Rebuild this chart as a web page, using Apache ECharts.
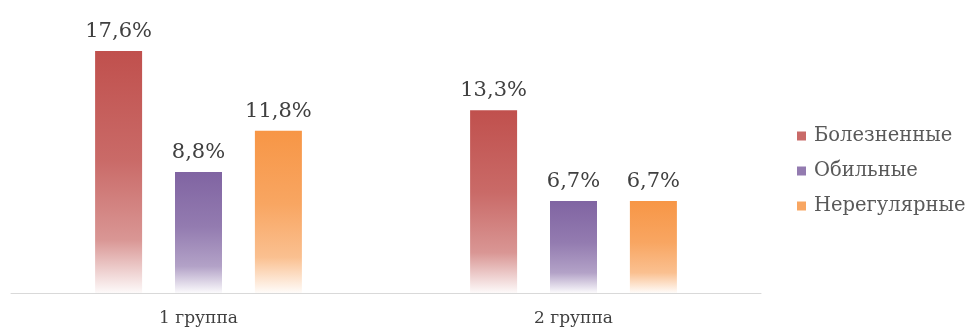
<!DOCTYPE html>
<html>
<head>
<meta charset="utf-8">
<script src="https://cdn.jsdelivr.net/npm/echarts@6/dist/echarts.min.js"></script>
<style>
html,body{margin:0;padding:0;background:#fff;}
#chart{width:967px;height:334px;}
</style>
</head>
<body>
<div id="chart"></div>
<script>
const categories = ['1 группа', '2 группа'];
const seriesNames = ['Болезненные', 'Обильные', 'Нерегулярные'];
const painful = [17.6, 13.3];
const heavy = [8.8, 6.7];
const irregular = [11.8, 6.7];
const seriesValues = [painful, heavy, irregular];
const baseColors = ['192,80,77', '128,100,162', '247,150,70'];

const FONT = 'DejaVu Serif';

function grad(rgb) {
  return new echarts.graphic.LinearGradient(0, 0, 0, 1, [
    { offset: 0, color: 'rgba(' + rgb + ',1)' },
    { offset: 0.45, color: 'rgba(' + rgb + ',0.85)' },
    { offset: 0.78, color: 'rgba(' + rgb + ',0.6)' },
    { offset: 1, color: 'rgba(' + rgb + ',0.03)' }
  ]);
}

const chart = echarts.init(document.getElementById('chart'));
chart.setOption({
  animation: false,
  backgroundColor: '#ffffff',
  grid: { left: 11, right: 206, top: 18, bottom: 41, containLabel: false },
  legend: {
    orient: 'vertical',
    left: 792,
    top: 121,
    itemWidth: 9,
    itemHeight: 9,
    itemGap: 15,
    icon: 'rect',
    textStyle: { fontFamily: FONT, fontSize: 19.5, color: '#595959', padding: [0, 0, 0, 3] },
    data: seriesNames.map((n, i) => ({ name: n, itemStyle: { color: 'rgba(' + baseColors[i] + ',0.85)' } }))
  },
  xAxis: {
    type: 'category',
    data: categories,
    axisLine: { show: true, lineStyle: { color: '#d9d9d9', width: 1 } },
    axisTick: { show: false },
    axisLabel: { fontFamily: FONT, fontSize: 17, color: '#404040', margin: 17 }
  },
  yAxis: {
    type: 'value',
    min: 0,
    max: 20,
    show: false,
    splitLine: { show: false }
  },
  series: seriesNames.map((n, i) => ({
    name: n,
    type: 'bar',
    data: seriesValues[i],
    barWidth: 47,
    barGap: '70%',
    itemStyle: { color: grad(baseColors[i]) },
    label: {
      show: true,
      position: 'top',
      distance: 9,
      fontFamily: FONT,
      fontSize: 21,
      color: '#404040',
      formatter: p => p.value.toFixed(1).replace('.', ',') + '%'
    }
  }))
});
</script>
</body>
</html>
